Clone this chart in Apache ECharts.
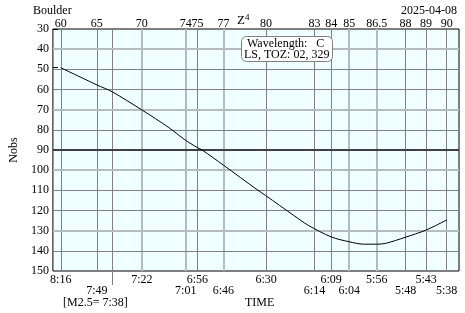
<!DOCTYPE html>
<html><head><meta charset="utf-8">
<script src="https://cdn.jsdelivr.net/npm/echarts@6/dist/echarts.min.js"></script>
<style>html,body{margin:0;padding:0;background:#fff}#c{width:465px;height:313px}</style>
</head><body><div id="c"></div>
<script>
// Horizontal scale: relative position across the plot (0..100)
const zenithLabels = ['60','65','70','74','75','77','80','83','84','85','86.5','88','89','90'];
const zenithPos    = [1.94, 10.82, 21.89, 32.71, 35.58, 41.99, 52.50, 64.42, 68.53, 72.97, 79.74, 86.85, 91.89, 96.96];
const lightZenith  = ['70','74','77','85','86.5'];
const timeRow1     = ['8:16','7:22','6:56','6:30','6:09','5:56','5:43'];
const timeRow1Z    = ['60','70','75','80','84','86.5','89'];
const timeRow2     = ['7:49','7:01','6:46','6:14','6:04','5:48','5:38'];
const timeRow2Z    = ['65','74','77','83','85','88','90'];
const m25Pos       = 14.56;
const m25Label     = '[M2.5= 7:38]';
// Nobs curve
const curveX = [1.94, 10.91, 14.56, 21.96, 28.57, 32.48, 35.58, 36.75, 42.06, 50.23, 52.34, 55.84, 59.35, 62.85, 68.53, 72.97, 76.47, 79.74, 81.94, 86.75, 91.89, 96.96];
const curveY = [49.2, 57.8, 61.1, 70.2, 78.9, 84.9, 88.8, 90.0, 97.6, 109.6, 112.5, 117.5, 122.5, 127.3, 133.1, 135.5, 136.7, 136.7, 136.3, 133.3, 129.7, 124.7];
const hLines      = [40,50,60,70,80,90,100,110,120,130,140];
const lightH      = [40,70,100,130];
const thickH      = [90];
const rightMarks  = [30, 49];

const FF = 'Liberation Serif';
const posOf = z => zenithPos[zenithLabels.indexOf(z)];
const row1Pos = timeRow1Z.map(posOf), row2Pos = timeRow2Z.map(posOf);
const lookup = (vals, labs) => v => { for (let i=0;i<vals.length;i++) if (Math.abs(vals[i]-v)<1e-6) return labs[i]; return ''; };

const DARK = '#808080', LIGHT = '#b4bcbc';
const vMarks = zenithPos.map((p,i)=>({xAxis:p, lineStyle:{color: lightZenith.includes(zenithLabels[i])?LIGHT:DARK, width: lightZenith.includes(zenithLabels[i])?2:1, type:'solid'}}));
vMarks.push({xAxis:m25Pos, lineStyle:{color:DARK,width:1,type:'solid'}});
const hMarks = hLines.map(v=>({yAxis:v, lineStyle:{color: thickH.includes(v)?'#404040':(lightH.includes(v)?LIGHT:DARK), width: thickH.includes(v)?2:(lightH.includes(v)?2:1), type:'solid'}}));

const chart = echarts.init(document.getElementById('c'), null, {renderer:'canvas'});
const lbl = {fontFamily:FF, fontSize:12, color:'#000'};
chart.setOption({
  animation:false,
  textStyle:{fontFamily:FF},
  grid:{left:31, right:6, top:29, height:242, show:true, backgroundColor:'#f0ffff', borderColor:'#000', borderWidth:1},
  title:[
    {text:'Boulder', left:28, top:0, textStyle:{...lbl, fontWeight:'normal'}},
    {text:'2025-04-08', right:3, top:0, textStyle:{...lbl, fontWeight:'normal'}},
    {text:'Z{s|4}', left:232, top:8, textStyle:{...lbl, fontSize:13, fontWeight:'normal', rich:{s:{fontFamily:FF,fontSize:9,verticalAlign:'top',padding:[0,0,6,0]}}}},
    {text:' Wavelength:   C\nLS, TOZ: 02, 329', left:241, top:37, backgroundColor:'#fff', borderColor:'#808080', borderWidth:1, borderRadius:5, padding:[1,3,1,3], textStyle:{...lbl, fontWeight:'normal', lineHeight:11}},
    {text:'TIME', left:240, top:292, textStyle:{...lbl, fontWeight:'normal'}},
    {text:m25Label, left:58, top:292, textStyle:{...lbl, fontWeight:'normal'}}
  ],
  xAxis:[
    {type:'value', min:0, max:100, position:'bottom', axisLine:{show:false}, splitLine:{show:false},
     axisTick:{show:true, customValues:[m25Pos], length:14, lineStyle:{color:DARK}},
     axisLabel:{customValues:row1Pos, formatter:lookup(row1Pos,timeRow1), margin:3, ...lbl}},
    {type:'value', min:0, max:100, position:'top', axisLine:{show:false}, splitLine:{show:false}, axisTick:{show:false},
     axisLabel:{customValues:zenithPos, formatter:lookup(zenithPos,zenithLabels), margin:-1, ...lbl}},
    {type:'value', min:0, max:100, position:'bottom', offset:11, axisLine:{show:false}, splitLine:{show:false}, axisTick:{show:false},
     axisLabel:{customValues:row2Pos, formatter:lookup(row2Pos,timeRow2), margin:3, ...lbl}}
  ],
  yAxis:[
    {type:'value', inverse:true, min:30, max:150, interval:10, axisLine:{show:false}, axisTick:{show:false}, splitLine:{show:false},
     axisLabel:{margin:4, ...lbl}, name:'Nobs', nameLocation:'middle', nameGap:23, nameRotate:90, nameTextStyle:{...lbl}},
    {type:'value', inverse:true, min:30, max:150, position:'right', axisLine:{show:false}, axisLabel:{show:false}, splitLine:{show:false},
     axisTick:{show:true, customValues:rightMarks, length:5, lineStyle:{color:'#000'}}}
  ],
  series:[
    {type:'line', data:[], z:1, silent:true, markLine:{silent:true, symbol:['none','none'], label:{show:false}, animation:false, data:[...vMarks, ...hMarks]}},
    {type:'line', data:curveX.map((x,i)=>[x,curveY[i]]), z:5, symbol:'none', smooth:0.3, lineStyle:{color:'#000', width:1}}
  ]
});
</script></body></html>
